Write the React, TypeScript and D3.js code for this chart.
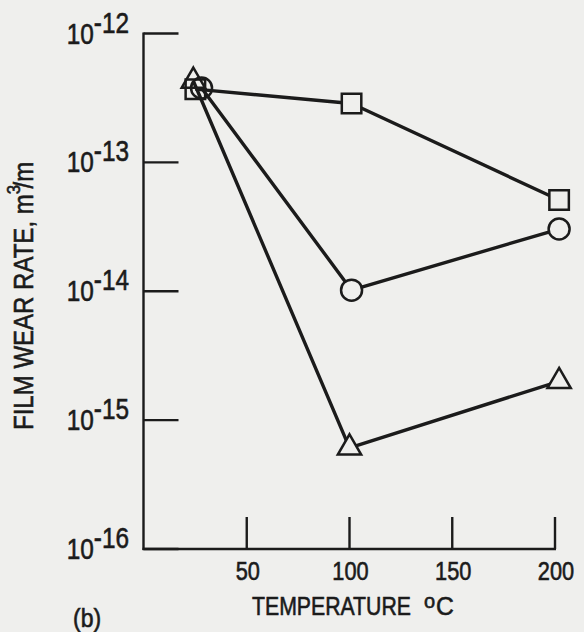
import React from "react";
import * as d3 from "d3";

const xTicks = [50, 100, 150, 200];
const yExponents = [-12, -13, -14, -15, -16];

const squareX = [25, 101, 202];
const squareY = [3.7e-13, 2.86e-13, 5.1e-14];
const circleX = [28, 101, 202];
const circleY = [3.78e-13, 1.02e-14, 3.04e-14];
const triangleX = [24, 100, 202];
const triangleY = [4.28e-13, 6.1e-16, 2.0e-15];

const W = 584;
const H = 632;
const BG = "#efefed";
const INK = "#1b1b1b";
const FONT = "'Liberation Sans', Arial, sans-serif";

export default function App() {
  const x = d3.scaleLinear().domain([0, 200]).range([144, 555]);
  const y = d3.scaleLog().domain([1e-16, 1e-12]).range([549, 33.5]);
  const line = d3
    .line<[number, number]>()
    .x((d) => x(d[0]))
    .y((d) => y(d[1]));

  // drawing order: triangle, square, circle (circle on top at the first point)
  const series = [
    { xs: triangleX, ys: triangleY, sym: d3.symbol(d3.symbolTriangle, 235)() as string },
    { xs: squareX, ys: squareY, sym: d3.symbol(d3.symbolSquare, 380)() as string },
    { xs: circleX, ys: circleY, sym: d3.symbol(d3.symbolCircle, 346)() as string },
  ];

  const x0 = x(0) - 0.5;
  const yBottom = y(1e-16);
  const textStroke = { stroke: INK, strokeWidth: 0.6 };

  return (
    <svg
      width={W}
      height={H}
      style={{ position: "absolute", left: 0, top: 0, display: "block" }}
      fontFamily={FONT}
    >
      <rect width={W} height={H} fill={BG} />

      {/* axes */}
      <g stroke={INK} strokeWidth={2.4} fill="none">
        <line x1={x0} x2={x0} y1={y(1e-12) - 1} y2={yBottom + 1} />
        <line x1={x0 - 1} x2={x(200) + 1} y1={yBottom} y2={yBottom} />
        {yExponents.map((e) => (
          <line key={e} x1={x0} x2={x0 + 35} y1={y(Math.pow(10, e))} y2={y(Math.pow(10, e))} />
        ))}
        {xTicks.map((t) => (
          <line key={t} x1={x(t)} x2={x(t)} y1={yBottom} y2={yBottom - 32} />
        ))}
      </g>

      {/* y tick labels */}
      {yExponents.map((e) => (
        <text
          key={e}
          transform={`translate(129, ${y(Math.pow(10, e))}) scale(0.84,1)`}
          textAnchor="end"
          fontSize={29}
          fill={INK}
          {...textStroke}
        >
          <tspan y={10}>10</tspan>
          <tspan dy={-11}>{`-${-e}`}</tspan>
        </text>
      ))}

      {/* x tick labels */}
      {xTicks.map((t) => (
        <text
          key={t}
          transform={`translate(${x(t) + 1}, 580) scale(0.87,1)`}
          textAnchor="middle"
          fontSize={25}
          fill={INK}
          {...textStroke}
        >
          {t}
        </text>
      ))}

      {/* x title */}
      <text transform="translate(252, 615) scale(0.85,1)" fontSize={25} fill={INK} {...textStroke}>
        TEMPERATURE
      </text>
      <text x={424} y={608} fontSize={20} fill={INK} {...textStroke}>
        o
      </text>
      <text transform="translate(436, 615) scale(0.95,1)" fontSize={26} fill={INK} {...textStroke}>
        C
      </text>

      {/* y title */}
      <text
        transform="translate(33, 430) rotate(-90) scale(0.89,1)"
        fontSize={27}
        fill={INK}
        {...textStroke}
      >
        FILM WEAR RATE, m
        <tspan dy={-13} fontSize={19}>3</tspan>
        <tspan dx={-4} dy={13}>/m</tspan>
      </text>

      {/* panel label */}
      <text transform="translate(73, 627) scale(0.92,1)" fontSize={25} fill={INK} {...textStroke}>
        (b)
      </text>

      {/* series lines */}
      {series.map((s, i) => (
        <path
          key={i}
          d={line(s.xs.map((v, j) => [v, s.ys[j]] as [number, number])) as string}
          fill="none"
          stroke={INK}
          strokeWidth={3.4}
          strokeLinejoin="round"
        />
      ))}

      {/* markers */}
      {series.map((s, i) => (
        <g key={i}>
          {s.xs.map((v, j) => (
            <path
              key={j}
              d={s.sym}
              transform={`translate(${x(v)}, ${y(s.ys[j])})`}
              fill={j === 0 ? "none" : BG}
              stroke={INK}
              strokeWidth={2.5}
            />
          ))}
        </g>
      ))}
    </svg>
  );
}
